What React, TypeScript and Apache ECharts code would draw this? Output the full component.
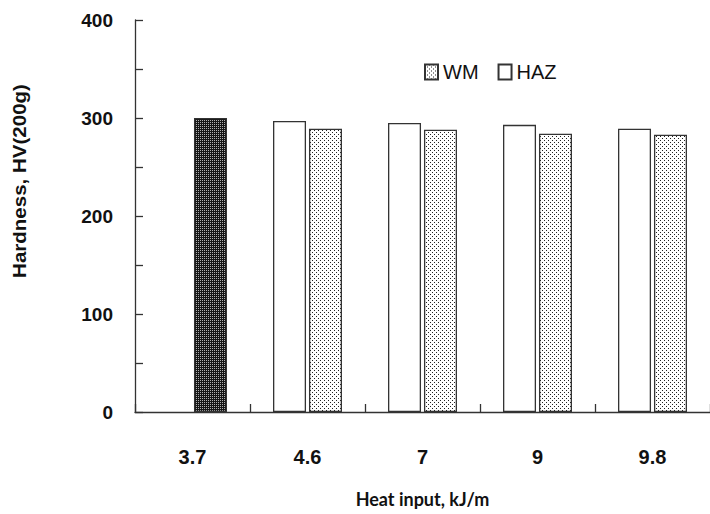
import React, { useEffect, useRef } from "react";
import * as echarts from "echarts";

const categories = ["3.7", "4.6", "7", "9", "9.8"];
const hazValues: (number | null)[] = [null, 297, 295, 293, 289];
const wmValues: number[] = [300, 289, 288, 284, 283];
const yMin = 0;
const yMax = 400;
const yInterval = 100;
const xTitle = "Heat input, kJ/m";
const yTitle = "Hardness, HV(200g)";

function makePattern(bg: string, fg: string, size: number, dots: number[][]) {
  const c = document.createElement("canvas");
  c.width = size;
  c.height = size;
  const ctx = c.getContext("2d")!;
  ctx.fillStyle = bg;
  ctx.fillRect(0, 0, size, size);
  ctx.fillStyle = fg;
  dots.forEach(([x, y]) => ctx.fillRect(x, y, 1, 1));
  return c;
}

export default function App() {
  const ref = useRef<HTMLDivElement>(null);
  useEffect(() => {
    if (!ref.current) return;
    const chart = echarts.init(ref.current, null, { renderer: "svg" });
    const lightCanvas = makePattern("#ffffff", "#222222", 4, [
      [0, 0],
      [2, 2],
    ]);
    const darkCanvas = makePattern("#151515", "#b0b0b0", 4, [
      [0, 0],
      [2, 0],
      [0, 2],
      [2, 2],
    ]);
    const lightPattern: any = { image: lightCanvas, repeat: "repeat", imageWidth: 4, imageHeight: 4 };
    const darkPattern: any = { image: darkCanvas, repeat: "repeat", imageWidth: 4, imageHeight: 4 };

    const wmData = wmValues.map((v, i) =>
      i === 0 ? { value: v, itemStyle: { color: darkPattern } } : { value: v }
    );

    chart.setOption({
      animation: false,
      backgroundColor: "#ffffff",
      grid: { left: 135, top: 20, width: 583, height: 392, containLabel: false },
      legend: {
        data: ["WM", "HAZ"],
        left: 419,
        top: 57,
        icon: "rect",
        itemWidth: 13,
        itemHeight: 15,
        itemGap: 19,
        textStyle: { fontFamily: "Liberation Sans", fontSize: 20, color: "#111" },
      },
      xAxis: {
        type: "category",
        data: categories,
        axisLine: { lineStyle: { color: "#333", width: 1.3 } },
        axisTick: { show: true, inside: true, length: 8, lineStyle: { color: "#333", width: 1.3 } },
        axisLabel: {
          margin: 35,
          fontFamily: "Liberation Sans",
          fontWeight: "bold",
          fontSize: 20,
          color: "#111",
        },
        name: xTitle,
        nameLocation: "middle",
        nameGap: 78,
        nameTextStyle: { fontFamily: "Lato", fontWeight: "bold", fontSize: 18, color: "#111" },
      },
      yAxis: {
        type: "value",
        min: yMin,
        max: yMax,
        interval: yInterval,
        splitLine: { show: false },
        axisLine: { show: true, lineStyle: { color: "#333", width: 1.3 } },
        axisTick: { show: true, inside: true, length: 8, lineStyle: { color: "#333", width: 1.3 } },
        minorTick: { show: true, splitNumber: 2, length: 8, lineStyle: { color: "#333", width: 1.3 } },
        axisLabel: {
          margin: 22,
          fontFamily: "Liberation Sans",
          fontWeight: "bold",
          fontSize: 19,
          color: "#111",
        },
      },
      graphic: [
        {
          type: "text",
          x: 20,
          y: 181,
          rotation: Math.PI / 2,
          scaleX: 1.14,
          style: {
            text: yTitle,
            fontFamily: "Liberation Sans",
            fontWeight: "bold",
            fontSize: 18,
            fill: "#111",
            textAlign: "center",
            textVerticalAlign: "middle",
          },
        },
      ],
      series: [
        {
          name: "HAZ",
          type: "bar",
          data: hazValues,
          barWidth: 33,
          barGap: "9%",
          itemStyle: { color: "#ffffff", borderColor: "#333", borderWidth: 1.3 },
        },
        {
          name: "WM",
          type: "bar",
          data: wmData,
          barWidth: 33,
          barGap: "9%",
          itemStyle: { color: lightPattern, borderColor: "#333", borderWidth: 1.3 },
        },
      ],
    });
    return () => chart.dispose();
  }, []);
  return (
    <div
      ref={ref}
      style={{ position: "fixed", left: 0, top: 0, width: 710, height: 514 }}
    />
  );
}
